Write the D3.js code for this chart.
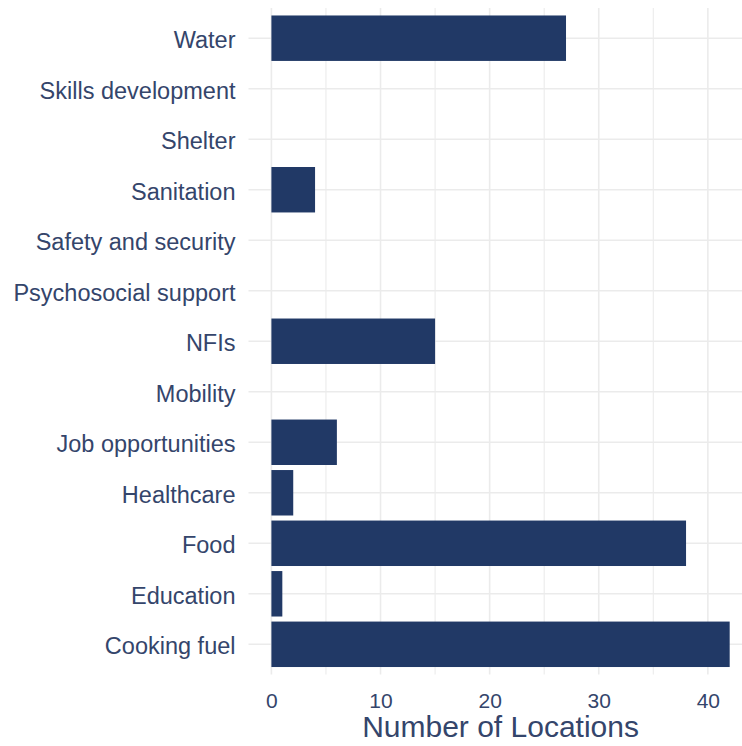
<!DOCTYPE html>
<html>
<head>
<meta charset="utf-8">
<script src="https://cdn.jsdelivr.net/npm/d3@7"></script>
<style>
  html, body { margin: 0; padding: 0; background: #ffffff; }
  svg { display: block; }
</style>
</head>
<body>
<svg id="chart" width="742" height="746"></svg>
<script>
const categories = ["Water", "Skills development", "Shelter", "Sanitation", "Safety and security",
  "Psychosocial support", "NFIs", "Mobility", "Job opportunities", "Healthcare", "Food",
  "Education", "Cooking fuel"];
const counts = [27, 0, 0, 4, 0, 0, 15, 0, 6, 2, 38, 1, 42];
const xTicks = [0, 10, 20, 30, 40];
const xMinor = [5, 15, 25, 35];
const xTitle = "Number of Locations";

const svg = d3.select("#chart");
const panel = { left: 248.5, right: 752.6, top: 7.9, bottom: 674.6 };
const barColor = "#213966";
const textColor = "#34456b";
const gridColor = "#ebebeb";

const x = d3.scaleLinear().domain([-2.1, 44.1]).range([panel.left, panel.right]);
const y = d3.scalePoint().domain(categories).range([panel.top, panel.bottom]).padding(0.6);
const bh = y.step() * 0.9;

// gridlines
const g = svg.append("g");
g.selectAll("line.minor").data(xMinor).join("line")
  .attr("x1", d => x(d)).attr("x2", d => x(d))
  .attr("y1", panel.top).attr("y2", panel.bottom)
  .attr("stroke", gridColor).attr("stroke-width", 1.1);
g.selectAll("line.majorx").data(xTicks).join("line")
  .attr("x1", d => x(d)).attr("x2", d => x(d))
  .attr("y1", panel.top).attr("y2", panel.bottom)
  .attr("stroke", gridColor).attr("stroke-width", 1.6);
g.selectAll("line.majory").data(categories).join("line")
  .attr("x1", panel.left).attr("x2", panel.right)
  .attr("y1", d => y(d)).attr("y2", d => y(d))
  .attr("stroke", gridColor).attr("stroke-width", 1.6);

// bars
svg.append("g").selectAll("rect").data(categories).join("rect")
  .attr("x", x(0))
  .attr("y", d => y(d) - bh / 2)
  .attr("width", (d, i) => x(counts[i]) - x(0))
  .attr("height", bh)
  .attr("fill", barColor)
  .filter((d, i) => counts[i] === 0).remove();

// y axis labels
const yAxis = d3.axisLeft(y).tickSize(0).tickPadding(13);
const ya = svg.append("g").attr("transform", `translate(${panel.left},0)`).call(yAxis);
ya.select(".domain").remove();
ya.selectAll("text")
  .attr("dy", "0.4em")
  .attr("font-family", "Liberation Sans, Arial, sans-serif")
  .attr("font-size", 23.5)
  .attr("fill", textColor);

// x axis labels
const xAxis = d3.axisBottom(x).tickValues(xTicks).tickSize(0).tickPadding(18);
const xa = svg.append("g").attr("transform", `translate(0,${panel.bottom})`).call(xAxis);
xa.select(".domain").remove();
xa.selectAll("text")
  .attr("font-family", "Liberation Sans, Arial, sans-serif")
  .attr("font-size", 21)
  .attr("fill", textColor);

svg.append("text")
  .attr("x", (panel.left + panel.right) / 2)
  .attr("y", 737)
  .attr("text-anchor", "middle")
  .attr("font-family", "Liberation Sans, Arial, sans-serif")
  .attr("font-size", 30)
  .attr("fill", textColor)
  .text(xTitle);
</script>
</body>
</html>
